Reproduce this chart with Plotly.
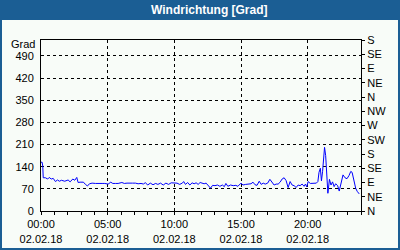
import plotly.graph_objects as go

day = "2018-02-02"
times = ["00:00","00:05","00:08","00:10","00:20","00:30","00:37","00:46","00:55","01:05","01:14","01:23","01:32","01:47",
         "02:02","02:11","02:23","02:32","02:41","02:47","02:56","03:11","03:20","03:29","03:38","03:50","04:05","04:20",
         "04:35","04:47","05:02","05:14","05:23","05:35","05:47","06:04","06:15","06:27","06:40","06:52","07:05","07:17",
         "07:30","07:42","07:49","08:00","08:12","08:24","08:36","08:46","08:58","09:10","09:22","09:34","09:46","10:00",
         "10:12","10:24","10:36","10:42","10:50","11:00","11:10","11:20","11:29","11:38","11:47","11:56","12:05","12:14",
         "12:23","12:32","12:43","12:52","13:03","13:14","13:25","13:36","13:45","13:52","14:01","14:13","14:25","14:37",
         "14:46","15:00","15:09","15:21","15:33","15:45","15:54","16:03","16:12","16:22","16:31","16:40","16:49","17:00",
         "17:10","17:20","17:29","17:38","17:47","17:56","18:05","18:14","18:23","18:32","18:41","18:50","18:59","19:08",
         "19:17","19:26","19:35","19:44","19:50","19:56","20:02","20:12","20:21","20:30","20:39","20:46","20:51","20:57",
         "21:02","21:07","21:11","21:16","21:21","21:25","21:31","21:38","21:45","21:52","21:59","22:06","22:15","22:22",
         "22:30","22:39","22:48","22:57","23:06","23:14","23:20","23:27","23:36","23:43","23:52"]
values = [154,154,142,105,105,101,106,101,103,93,98,94,97,94,
          98,92,101,97,106,90,91,91,84,79,86,88,87,88,
          87,87,85,91,87,87,87,90,87,88,89,88,88,86,
          87,85,90,82,88,83,87,84,88,82,88,84,89,88,
          88,84,88,93,84,90,82,89,86,89,84,90,88,86,
          88,80,72,81,80,82,78,82,77,87,78,82,80,81,
          78,88,82,84,84,86,91,83,81,94,84,88,85,88,
          100,90,82,85,85,91,101,105,96,74,93,82,80,74,
          82,80,85,78,85,76,93,87,88,87,88,93,122,135,
          95,124,175,201,175,124,56,100,82,92,77,86,80,63,
          85,114,105,102,112,125,122,97,72,62,54]

left_ticks = [0, 70, 140, 210, 280, 350, 420, 490]
dir_ticks = [0, 45, 90, 135, 180, 225, 270, 315, 360, 405, 450, 495, 540]
dir_labels = ["N", "NE", "E", "SE", "S", "SW", "W", "NW", "N", "NE", "E", "SE", "S"]
title_text = "Windrichtung [Grad]"
unit_text = "Grad"

x = [f"{day} {t}" for t in times]

BLUE = "#1b5e94"
BG = "#f8fcf8"
FONT = "Liberation Sans, Arial, sans-serif"

W, H = 400, 250
L, R, T, B = 41, 39, 40, 39
PW, PH = W - L - R, H - T - B

def px(xp):
    return (xp - L) / PW

def py(yp):
    return (H - B - yp) / PH

fig = go.Figure()
fig.add_trace(go.Scatter(x=x, y=values, mode="lines",
                         line=dict(color="#0000ff", width=1), showlegend=False,
                         hoverinfo="skip"))
fig.add_trace(go.Scatter(x=[x[0]], y=[0], yaxis="y2", mode="markers",
                         marker=dict(opacity=0), showlegend=False, hoverinfo="skip"))

shapes = []
for (x0, y0, x1, y1) in [(0, 0, 400, 20), (0, 0, 2, 250), (398, 0, 400, 250), (0, 248, 400, 250)]:
    shapes.append(dict(type="rect", xref="paper", yref="paper",
                       x0=px(x0), x1=px(x1), y0=py(y1), y1=py(y0),
                       fillcolor=BLUE, line=dict(width=0), layer="above"))

fig.update_layout(
    width=W, height=H,
    margin=dict(l=L, r=R, t=T, b=B, pad=0, autoexpand=False),
    paper_bgcolor=BG, plot_bgcolor=BG,
    font=dict(family=FONT, size=11, color="#000000"),
    shapes=shapes,
    annotations=[
        dict(text=f"<b>{title_text}</b>", xref="paper", yref="paper",
             x=px(209), y=py(10), xanchor="center", yanchor="middle",
             showarrow=False, font=dict(family=FONT, size=12, color="#ffffff")),
        dict(text=unit_text, xref="paper", yref="paper",
             x=px(37), y=py(44), xanchor="right", yanchor="middle",
             showarrow=False, font=dict(family=FONT, size=11, color="#000000")),
    ],
    xaxis=dict(
        type="date", automargin=False,
        range=[f"{day} 00:00", "2018-02-03 00:00"],
        tickmode="linear", tick0=f"{day} 00:00", dtick=5 * 3600000,
        tickformat="%H:%M<br>%d.%m.%y",
        ticks="outside", ticklen=3, tickcolor="#000000", tickwidth=1,
        ticklabelstandoff=0,
        minor=dict(dtick=3600000, ticks="outside", ticklen=3, tickcolor="#000000", showgrid=False),
        showgrid=True, gridcolor="#000000", gridwidth=1, griddash="3px,3px",
        showline=True, linecolor="#000000", linewidth=1, mirror=True,
        zeroline=False, fixedrange=True,
    ),
    yaxis=dict(
        range=[0, 540], automargin=False,
        tickmode="array", tickvals=left_ticks,
        ticks="", ticklabelstandoff=4,
        showgrid=True, gridcolor="#000000", gridwidth=1, griddash="3px,3px",
        showline=True, linecolor="#000000", linewidth=1, mirror=True,
        zeroline=False, fixedrange=True,
    ),
    yaxis2=dict(
        overlaying="y", side="right", range=[0, 540], automargin=False,
        tickmode="array", tickvals=dir_ticks, ticktext=dir_labels,
        ticks="outside", ticklen=3, tickcolor="#000000",
        showgrid=False, zeroline=False, showline=False, fixedrange=True,
    ),
)

fig.write_html("out.html")
